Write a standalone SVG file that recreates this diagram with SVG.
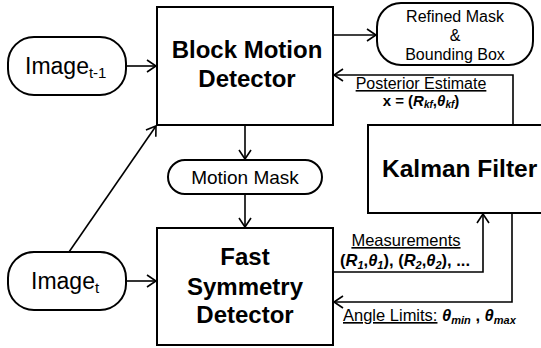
<svg xmlns="http://www.w3.org/2000/svg" width="541" height="348" viewBox="0 0 541 348">
<style>
.box{fill:#fff;stroke:#000;stroke-width:2}
.ln{fill:none;stroke:#000;stroke-width:1.6}
.t{font-family:"Liberation Sans",Arial,sans-serif;fill:#000}
.big{font-size:24px;font-weight:bold;text-anchor:middle}
.img{font-size:23px}
.lbl{font-size:16.5px}
.b{font-weight:bold}
.bi{font-weight:bold;font-style:italic}
</style>
<defs>
<marker id="arr" markerUnits="userSpaceOnUse" markerWidth="20" markerHeight="20" viewBox="-12 -10 14 20" refX="0" refY="0" orient="auto">
<path d="M-9,-6 L0,0 L-9,6" fill="none" stroke="#000" stroke-width="1.6"/>
</marker>
</defs>
<g id="connectors">
<path class="ln" d="M127,66 H156" marker-end="url(#arr)"/>
<path class="ln" d="M127,281 H156" marker-end="url(#arr)"/>
<path class="ln" d="M69,252 L156,126" marker-end="url(#arr)"/>
<path class="ln" d="M245,125 V159" marker-end="url(#arr)"/>
<path class="ln" d="M245,194 V227" marker-end="url(#arr)"/>
<path class="ln" d="M333,35 H376" marker-end="url(#arr)"/>
<path class="ln" d="M513,125 V75 H334" marker-end="url(#arr)"/>
<path class="ln" d="M333,272 H483 V214" marker-end="url(#arr)"/>
<path class="ln" d="M512,213 V302 H334" marker-end="url(#arr)"/>
</g>
<g id="label-posterior">
<text class="t" font-size="16" x="421" y="89" text-anchor="middle" text-decoration="underline">Posterior Estimate</text>
<text class="t b" font-size="15" x="421" y="106" text-anchor="middle">x = (<tspan class="bi">R</tspan><tspan class="bi" font-size="10" dy="2">kf</tspan><tspan dy="-2">,</tspan><tspan class="bi">θ</tspan><tspan class="bi" font-size="10" dy="2">kf</tspan><tspan dy="-2">)</tspan></text>
</g>
<g id="label-measurements">
<text class="t lbl" x="406" y="246" text-anchor="middle" text-decoration="underline">Measurements</text>
<text class="t lbl b" x="340" y="266">(<tspan class="bi">R</tspan><tspan class="bi" font-size="11" dy="3">1</tspan><tspan dy="-3">,</tspan><tspan class="bi">θ</tspan><tspan class="bi" font-size="11" dy="3">1</tspan><tspan dy="-3">), (</tspan><tspan class="bi">R</tspan><tspan class="bi" font-size="11" dy="3">2</tspan><tspan dy="-3">,</tspan><tspan class="bi">θ</tspan><tspan class="bi" font-size="11" dy="3">2</tspan><tspan dy="-3">), ...</tspan></text>
</g>
<g id="label-angle">
<text class="t lbl" x="343" y="321"><tspan text-decoration="underline">Angle Limits:</tspan> <tspan class="bi">θ</tspan><tspan class="bi" font-size="11" dy="3">min</tspan><tspan class="b" dy="-3"> , </tspan><tspan class="bi">θ</tspan><tspan class="bi" font-size="11" dy="3">max</tspan></text>
</g>
<g id="image-t-1">
<rect class="box" x="8" y="37" width="118" height="58" rx="26"/>
<text class="t img" x="25" y="74">Image<tspan font-size="15" dy="4">t-1</tspan></text>
</g>
<g id="image-t">
<rect class="box" x="8" y="252" width="118" height="58" rx="26"/>
<text class="t img" x="31" y="289">Image<tspan font-size="15" dy="4">t</tspan></text>
</g>
<g id="block-motion-detector">
<rect class="box" x="157" y="7" width="176" height="118"/>
<text class="t big" x="247" y="58">Block Motion</text>
<text class="t big" x="247" y="87">Detector</text>
</g>
<g id="motion-mask">
<rect class="box" x="168" y="160" width="154" height="34" rx="17"/>
<text class="t" x="245" y="184" font-size="19" text-anchor="middle">Motion Mask</text>
</g>
<g id="fast-symmetry-detector">
<rect class="box" x="157" y="228" width="176" height="117"/>
<text class="t big" x="245" y="265">Fast</text>
<text class="t big" x="245" y="295">Symmetry</text>
<text class="t big" x="245" y="323">Detector</text>
</g>
<g id="refined-mask">
<rect class="box" x="377" y="3" width="156" height="62" rx="24"/>
<text class="t" x="455" y="22" font-size="16" text-anchor="middle">Refined Mask</text>
<text class="t" x="455" y="41" font-size="16" text-anchor="middle">&amp;</text>
<text class="t" x="455" y="60" font-size="16" text-anchor="middle">Bounding Box</text>
</g>
<g id="kalman-filter">
<rect class="box" x="368" y="125" width="180" height="88"/>
<text class="t" x="382" y="177" font-size="24.5" font-weight="bold">Kalman Filter</text>
</g>
</svg>
